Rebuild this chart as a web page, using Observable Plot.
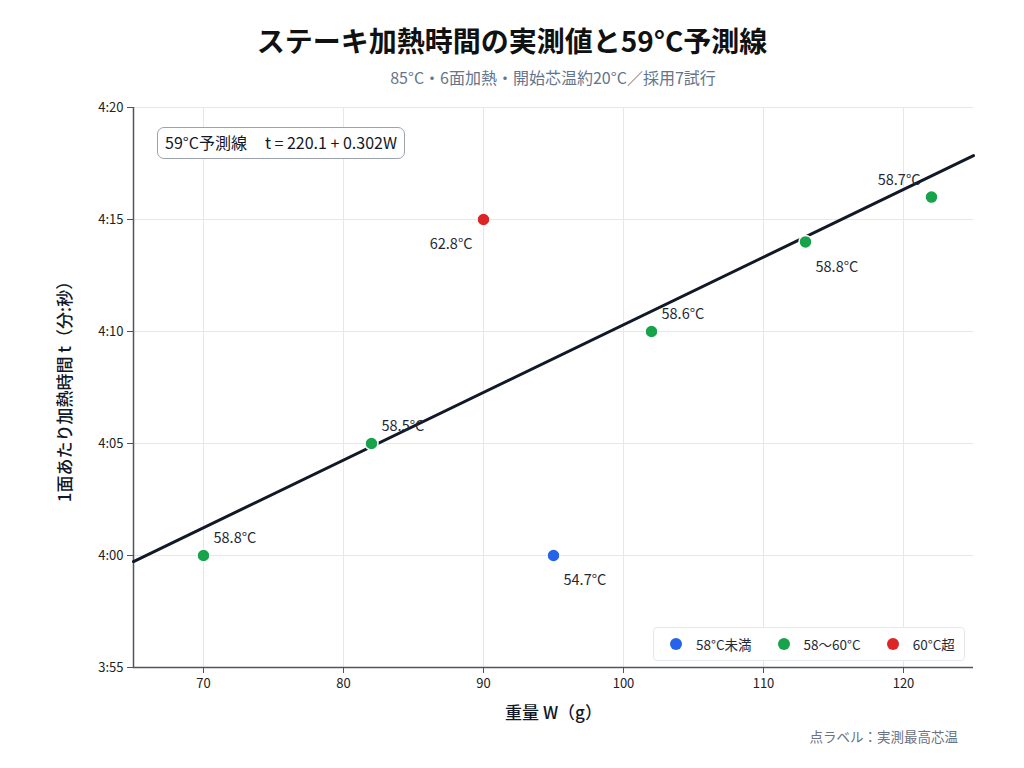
<!DOCTYPE html>
<html><head><meta charset="utf-8">
<script src="https://cdn.jsdelivr.net/npm/d3@7"></script>
<script src="https://cdn.jsdelivr.net/npm/@observablehq/plot@0.6"></script>
<style>
body{margin:0;background:#fff;font-family:"Noto Sans CJK JP","Noto Sans",sans-serif;}
#wrap{position:relative;width:1024px;height:768px;overflow:hidden;}
#title{position:absolute;top:20px;left:0;width:1024px;text-align:center;font-size:28px;font-weight:700;color:#111;line-height:40px;}
#subtitle{position:absolute;top:65px;left:133px;width:840px;text-align:center;font-size:16px;color:#64748b;line-height:24px;}
#chart{position:absolute;top:88px;left:0;}
#eq{position:absolute;left:157px;top:127px;height:32px;padding:0 7px;border:1.5px solid #9ca3af;border-radius:7px;background:#fff;font-size:16px;line-height:29px;color:#111827;white-space:pre;box-sizing:border-box;}
#eq span.f{margin-left:18px;}
#legend{position:absolute;left:653px;top:627px;width:312px;height:34px;border:1px solid #e5e7eb;border-radius:4px;background:#fff;box-sizing:border-box;font-size:13.5px;color:#1f2937;display:flex;align-items:center;}
#legend span.dot{display:inline-block;width:12px;height:12px;border-radius:50%;margin-right:14px;}
#legend .item{display:flex;align-items:center;}
#caption{position:absolute;right:66px;top:726px;font-size:13.5px;color:#6b7280;line-height:20px;}
</style></head>
<body>
<div id="wrap">
  <div id="title"></div>
  <div id="subtitle"></div>
  <div id="chart"></div>
  <div id="eq"></div>
  <div id="legend"></div>
  <div id="caption"></div>
</div>
<script>
// ---- data ----
const weights = [70, 82, 90, 95, 102, 113, 122];          // g
const times = [240, 245, 255, 240, 250, 254, 256];         // seconds
const coreTemps = [58.8, 58.5, 62.8, 54.7, 58.6, 58.8, 58.7]; // °C
const labelPlacement = ["ne", "ne", "sw", "se", "ne", "se", "nw"];
const intercept = 220.1;
const slope = 0.302;
const xDomain = [65, 125];
const yDomain = [235, 260];
const xTicks = [70, 80, 90, 100, 110, 120];
const yTicks = [235, 240, 245, 250, 255, 260];
const categories = ["58°C未満", "58〜60°C", "60°C超"];
const categoryColors = ["#2563eb", "#16a34a", "#dc2626"];
const titleText = "ステーキ加熱時間の実測値と59°C予測線";
const subtitleText = "85°C・6面加熱・開始芯温約20°C／採用7試行";
const xLabel = "重量 W（g）";
const yLabel = "1面あたり加熱時間 t（分:秒）";
const captionText = "点ラベル：実測最高芯温";
const eqName = "59°C予測線";
const eqFormula = `t = ${intercept} + ${slope}W`;

// ---- build ----
const catOf = t => t < 58 ? categories[0] : (t <= 60 ? categories[1] : categories[2]);
const pts = weights.map((w, i) => ({w, t: times[i], temp: coreTemps[i], cat: catOf(coreTemps[i]), pos: labelPlacement[i]}));
const fitLine = xDomain.map(w => ({w, t: intercept + slope * w}));
const fmtTime = s => `${Math.floor(s / 60)}:${String(s % 60).padStart(2, "0")}`;
const font = `"Noto Sans CJK JP","Noto Sans",sans-serif`;

const labelMark = (pos, dx, dy, anchor) => Plot.text(pts.filter(d => d.pos === pos), {
  x: "w", y: "t", text: d => `${d.temp.toFixed(1)}°C`, dx, dy, textAnchor: anchor,
  fontSize: 14.5, fill: "#1f2937"
});

const chart = Plot.plot({
  width: 1024,
  height: 640,
  marginTop: 19,
  marginLeft: 133,
  marginRight: 51,
  marginBottom: 61,
  style: {fontFamily: font, fontSize: "13px", color: "#1f2937", background: "transparent"},
  x: {domain: xDomain, ticks: xTicks, label: null},
  y: {domain: yDomain, ticks: yTicks, tickFormat: fmtTime, label: null},
  color: {domain: categories, range: categoryColors},
  marks: [
    Plot.gridX(xTicks, {stroke: "#e5e7eb", strokeOpacity: 1, strokeWidth: 1}),
    Plot.gridY(yTicks, {stroke: "#e5e7eb", strokeOpacity: 1, strokeWidth: 1}),
    Plot.axisX({ticks: xTicks, tickSize: 6, tickPadding: 5, stroke: "#4b5563", fill: "#222", fontSize: 13, label: null}),
    Plot.axisY({ticks: yTicks, tickFormat: fmtTime, tickSize: 6, tickPadding: 4, stroke: "#4b5563", fill: "#222", fontSize: 13, label: null}),
    Plot.ruleX([xDomain[0]], {stroke: "#4b5563", strokeWidth: 1.5}),
    Plot.ruleY([yDomain[0]], {stroke: "#4b5563", strokeWidth: 1.5}),
    Plot.line(fitLine, {x: "w", y: "t", stroke: "#111827", strokeWidth: 3}),
    Plot.dot(pts, {x: "w", y: "t", fill: "cat", r: 6.5, stroke: "#fff", strokeWidth: 1.5}),
    labelMark("ne", 10, -17, "start"),
    labelMark("se", 10, 25, "start"),
    labelMark("sw", -11, 25, "end"),
    labelMark("nw", -11, -17, "end"),
    Plot.text([xLabel], {frameAnchor: "bottom", dy: 51, fontSize: 17, fontWeight: 500, fill: "#111827"}),
    Plot.text([yLabel], {frameAnchor: "left", dx: -68, rotate: -90, textAnchor: "middle", fontSize: 17, fontWeight: 500, fill: "#111827"})
  ]
});
document.getElementById("chart").appendChild(chart);
document.getElementById("title").textContent = titleText;
document.getElementById("subtitle").textContent = subtitleText;
document.getElementById("caption").textContent = captionText;
const eq = document.getElementById("eq");
const s1 = document.createElement("span"); s1.textContent = eqName;
const s2 = document.createElement("span"); s2.className = "f"; s2.textContent = eqFormula;
eq.appendChild(s1); eq.appendChild(s2);

const leg = document.getElementById("legend");
categories.forEach((c, i) => {
  const it = document.createElement("div");
  it.className = "item";
  it.style.marginLeft = (i === 0 ? 16 : 26) + "px";
  const dot = document.createElement("span");
  dot.className = "dot";
  dot.style.background = categoryColors[i];
  it.appendChild(dot);
  it.appendChild(document.createTextNode(c));
  leg.appendChild(it);
});
</script>
</body></html>
